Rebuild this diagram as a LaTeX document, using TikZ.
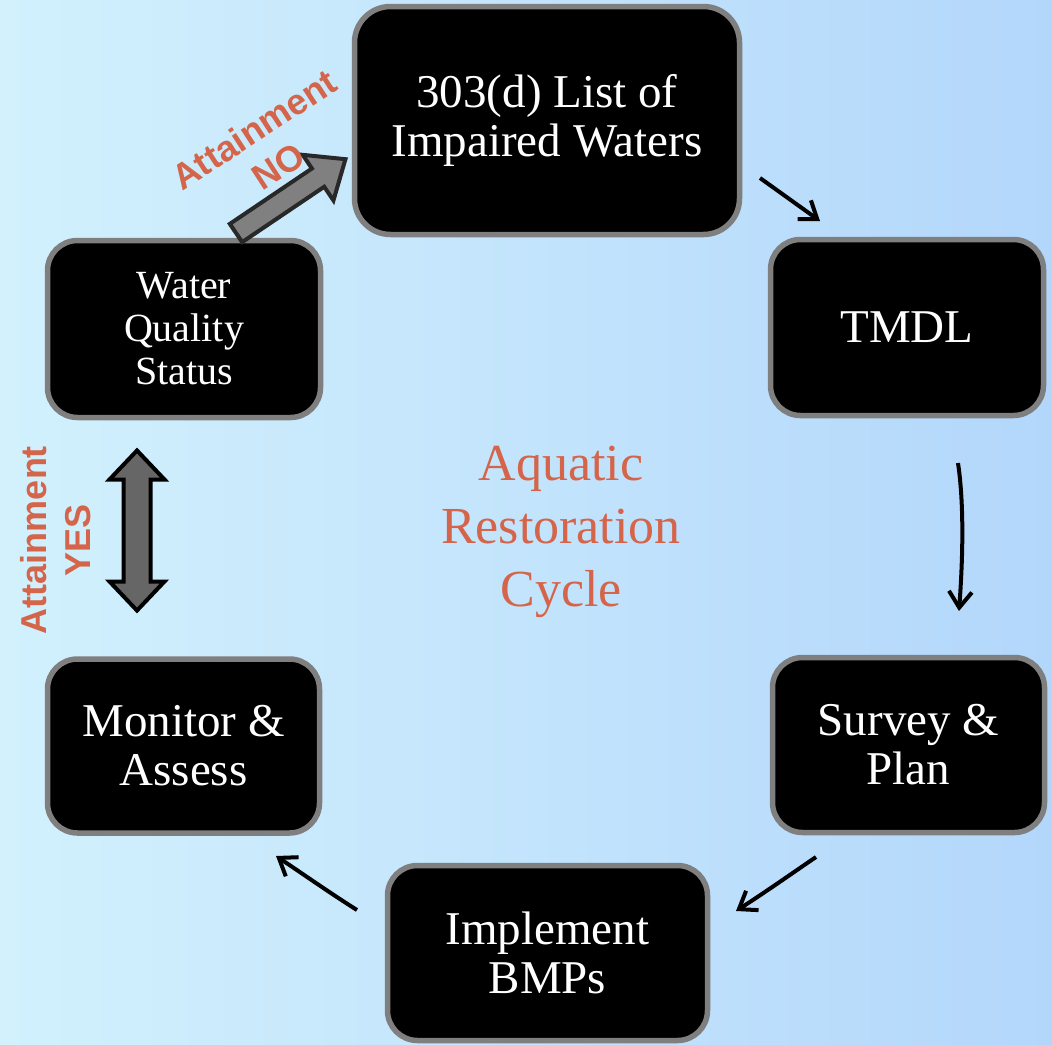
\documentclass[tikz,border=0pt]{standalone}
\usepackage{fontspec}
\setmainfont{Liberation Serif}
\newfontfamily\tagsans{Liberation Sans}
\usetikzlibrary{arrows.meta}
\definecolor{bgleft}{HTML}{D2F1FD}
\definecolor{bgright}{HTML}{B3D7FB}
\definecolor{rust}{HTML}{D4654A}
\definecolor{rimgray}{HTML}{7F7F7F}
\definecolor{noshaft}{HTML}{808080}
\definecolor{norim}{HTML}{282828}
\definecolor{yesshaft}{HTML}{666666}
\begin{document}
\begin{tikzpicture}[x=1pt,y=-1pt,
  stage/.style={rectangle, rounded corners=30pt, draw=rimgray, line width=5.5pt,
    fill=black, text=white, align=center, inner sep=0pt,
    font=\fontsize{47}{49}\selectfont},
  tag/.style={text=rust, align=center, inner sep=0pt,
    font=\tagsans\bfseries\fontsize{36}{44}\selectfont},
  blockarrow/.style={line width=4pt, line join=miter},
  flow/.style={line width=4pt, -{Straight Barb[length=16pt,width=23pt]}}]

% backdrop
\shade[left color=bgleft, right color=bgright] (0,0) rectangle (1052,1044);
\useasboundingbox (0,0) rectangle (1052,1044);

% cycle stages
\node[stage, rounded corners=36pt, minimum width=385pt, minimum height=228pt]
  (list) at (547,120.5) {303(d) List of\\Impaired Waters};
\node[stage, minimum width=273pt, minimum height=176pt]
  (tmdl) at (907,327.5) {TMDL};
\node[stage, minimum width=272pt, minimum height=175pt]
  (survey) at (908.5,745) {Survey \&\\Plan};
\node[stage, minimum width=320pt, minimum height=175pt]
  (bmps) at (547.5,953) {Implement\\BMPs};
\node[stage, minimum width=272pt, minimum height=174pt]
  (monitor) at (183.5,746) {Monitor \&\\Assess};
\node[stage, minimum width=273pt, minimum height=177pt,
  font=\fontsize{40}{43}\selectfont]
  (status) at (184,329) {Water\\Quality\\Status};

% centre title
\node[text=rust, align=center, inner sep=0pt, font=\fontsize{52}{63}\selectfont]
  (title) at (561,531.5) {Aquatic\\Restoration\\Cycle};

% "not attained" block arrow, from the status box up to the 303(d) list
\begin{scope}[shift={(236,233)}, rotate=34]
  \draw[blockarrow, fill=noshaft, draw=norim]
    (0,-11) -- (99,-11) -- (99,-27.5) -- (132,0) -- (99,27.5) -- (99,11)
    -- (0,11) -- cycle;
\end{scope}
\node[tag, rotate=33] (nolabel) at (266,148) {Attainment\\NO};

% "attained" two-way block arrow between status and monitoring
\draw[blockarrow, fill=yesshaft, draw=black]
  (137,450.5) -- (164.5,479.5) -- (150.5,479.5) -- (150.5,581.5)
  -- (164.5,581.5) -- (137,610.5) -- (109.5,581.5) -- (123.5,581.5)
  -- (123.5,479.5) -- (109.5,479.5) -- cycle;
\node[tag, rotate=90] (yeslabel) at (56,540) {Attainment\\YES};

% hand-drawn flow arrows between stages
\coordinate (f1a) at (760,178);  \coordinate (f1b) at (820,221);
\coordinate (f2a) at (958,463);  \coordinate (f2b) at (959,611);
\coordinate (f3a) at (816,857);  \coordinate (f3b) at (736,911);
\coordinate (f4a) at (357,910);  \coordinate (f4b) at (276,856);

\draw[flow] (f1a) -- (f1b);
\draw[flow] (f2a) .. controls (965,510) and (962,570) .. (f2b);
\draw[flow] (f3a) .. controls (794,872) and (767,891) .. (f3b);
\draw[flow] (f4a) .. controls (330,893) and (303,874) .. (f4b);
\end{tikzpicture}
\end{document}
